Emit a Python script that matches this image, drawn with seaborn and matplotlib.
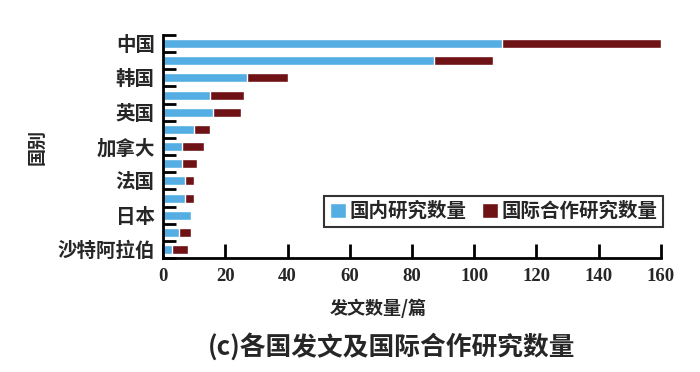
import pandas as pd
import seaborn as sns
import matplotlib.pyplot as plt
from matplotlib.patches import Patch

countries = ["中国", "美国", "韩国", "澳大利亚", "英国", "德国", "加拿大",
             "意大利", "法国", "印度", "日本", "西班牙", "沙特阿拉伯"]
shown = ["中国", "韩国", "英国", "加拿大", "法国", "日本", "沙特阿拉伯"]
domestic = [109, 87, 27, 15, 16, 10, 6, 6, 7, 7, 9, 5, 3]
intl = [51, 19, 13, 11, 9, 5, 7, 5, 3, 3, 0, 4, 5]

blue = "#55aee3"
red = "#6e1216"

df = pd.DataFrame({"国别": countries, "国内研究数量": domestic, "国际合作研究数量": intl})
df["total"] = df["国内研究数量"] + df["国际合作研究数量"]

sns.set_style("ticks")
plt.rcParams["font.family"] = ["Noto Sans CJK SC", "DejaVu Sans"]

fig = plt.figure(figsize=(7, 3.72), dpi=100)
ax = fig.add_axes([0.233, 0.306, 0.711, 0.600])

sns.barplot(data=df, y="国别", x="total", color=red, orient="h",
            width=0.52, saturation=1, ax=ax)
sns.barplot(data=df, y="国别", x="国内研究数量", color=blue, orient="h",
            width=0.52, saturation=1, ax=ax)

ax.set_xlim(0, 160)
ax.set_ylim(12.5, -0.5)
ax.set_xticks(range(0, 161, 20))
ax.set_xticklabels([str(v) for v in range(0, 161, 20)],
                   family=["Liberation Serif"], fontweight="bold", fontsize=13.5)
ax.set_yticks(range(len(countries)))
ax.set_yticklabels([c if c in shown else "" for c in countries],
                   fontweight="bold", fontsize=14)
ax.set_yticks([i - 0.5 for i in range(len(countries) + 1)], minor=True)
ax.tick_params(axis="y", which="major", length=0, pad=6)
ax.tick_params(axis="y", which="minor", left=True, length=9, width=2,
               direction="in", color="black")
ax.tick_params(axis="x", which="major", bottom=True, length=10, width=2,
               direction="in", color="black", pad=7)
ax.set_xlabel("")
ax.set_ylabel("")

for s in ["top", "right"]:
    ax.spines[s].set_visible(False)
for s in ["left", "bottom"]:
    ax.spines[s].set_color("black")
    ax.spines[s].set_linewidth(2)

handles = [Patch(facecolor=blue, label="国内研究数量"),
           Patch(facecolor=red, label="国际合作研究数量")]
leg = ax.legend(handles=handles, ncol=2, loc="lower right",
                bbox_to_anchor=(1.005, 0.14), frameon=True, fancybox=False,
                prop={"weight": "bold", "size": 14}, handlelength=0.8,
                handleheight=0.8, handletextpad=0.2, columnspacing=0.8,
                borderpad=0.3, borderaxespad=0)
leg.get_frame().set_edgecolor("black")
leg.get_frame().set_linewidth(1.5)

fig.text(0.053, 0.605, "国别", rotation=90, ha="center", va="center",
         fontsize=13, fontweight="bold")
fig.text(0.54, 0.172, "发文数量/篇", ha="center", va="center",
         fontsize=13, fontweight="bold")
fig.text(0.56, 0.068, "(c)各国发文及国际合作研究数量", ha="center", va="center",
         fontsize=18.5, fontweight="bold")

fig.savefig("out.png", dpi=100)
